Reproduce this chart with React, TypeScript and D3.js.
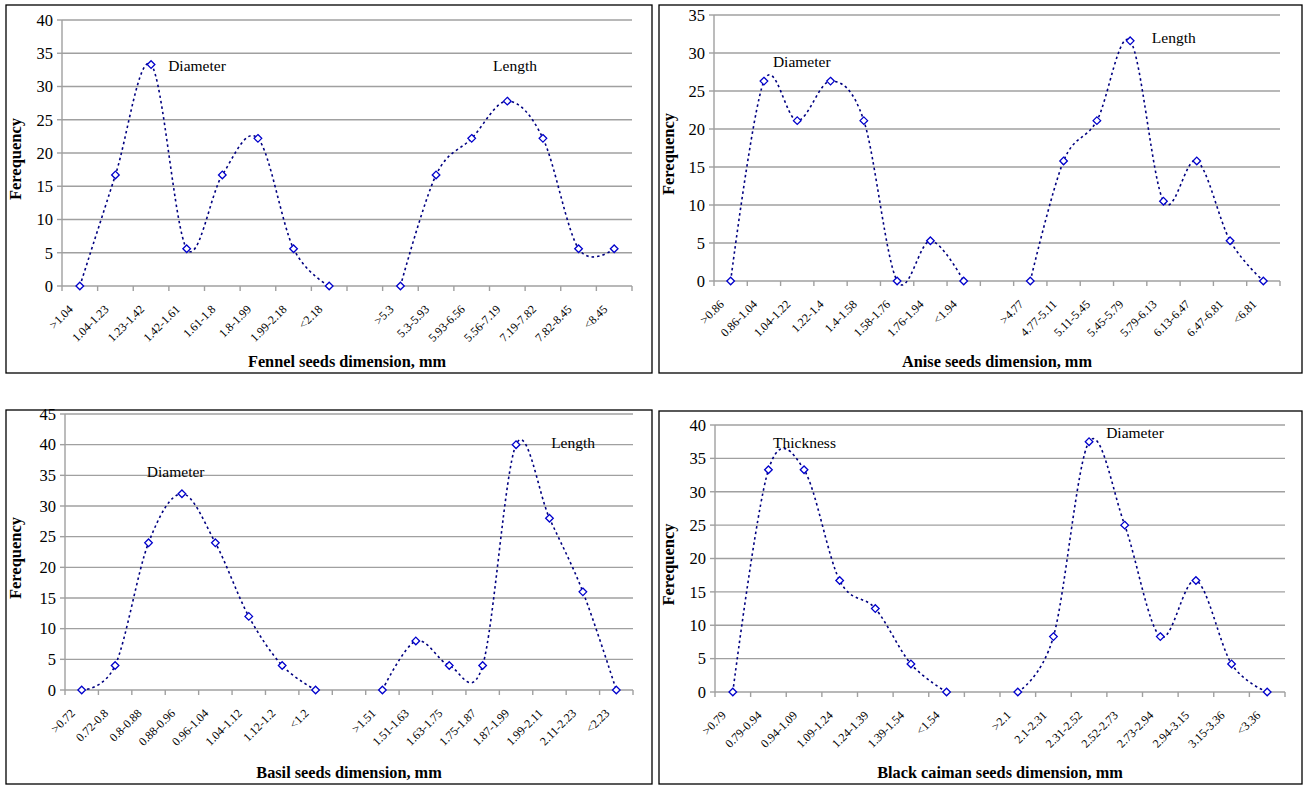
import React from "react";
import * as d3 from "d3";

// ---------- DATA ----------
const fennelDiaLabels = [">1.04", "1.04-1.23", "1.23-1.42", "1.42-1.61", "1.61-1.8", "1.8-1.99", "1.99-2.18", "<2.18"];
const fennelDiaValues = [0, 16.7, 33.3, 5.6, 16.7, 22.2, 5.6, 0];
const fennelLenLabels = [">5.3", "5.3-5.93", "5.93-6.56", "5.56-7.19", "7.19-7.82", "7.82-8.45", "<8.45"];
const fennelLenValues = [0, 16.7, 22.2, 27.8, 22.2, 5.6, 5.6];

const aniseDiaLabels = [">0.86", "0.86-1.04", "1.04-1.22", "1.22-1.4", "1.4-1.58", "1.58-1.76", "1.76-1.94", "<1.94"];
const aniseDiaValues = [0, 26.3, 21.1, 26.3, 21.1, 0, 5.3, 0];
const aniseLenLabels = [">4.77", "4.77-5.11", "5.11-5.45", "5.45-5.79", "5.79-6.13", "6.13-6.47", "6.47-6.81", "<6.81"];
const aniseLenValues = [0, 15.8, 21.1, 31.6, 10.5, 15.8, 5.3, 0];

const basilDiaLabels = [">0.72", "0.72-0.8", "0.8-0.88", "0.88-0.96", "0.96-1.04", "1.04-1.12", "1.12-1.2", "<1.2"];
const basilDiaValues = [0, 4, 24, 32, 24, 12, 4, 0];
const basilLenLabels = [">1.51", "1.51-1.63", "1.63-1.75", "1.75-1.87", "1.87-1.99", "1.99-2.11", "2.11-2.23", "<2.23"];
const basilLenValues = [0, 8, 4, 4, 40, 28, 16, 0];

const caimanThkLabels = [">0.79", "0.79-0.94", "0.94-1.09", "1.09-1.24", "1.24-1.39", "1.39-1.54", "<1.54"];
const caimanThkValues = [0, 33.3, 33.3, 16.7, 12.5, 4.2, 0];
const caimanDiaLabels = [">2.1", "2.1-2.31", "2.31-2.52", "2.52-2.73", "2.73-2.94", "2.94-3.15", "3.15-3.36", "<3.36"];
const caimanDiaValues = [0, 8.3, 37.5, 25, 8.3, 16.7, 4.2, 0];

const yMaxes = [40, 35, 45, 40];
const titles = [
  "Fennel seeds dimension, mm",
  "Anise seeds dimension, mm",
  "Basil seeds dimension, mm",
  "Black caiman seeds dimension, mm",
];
const seriesNames = [
  ["Diameter", "Length"],
  ["Diameter", "Length"],
  ["Diameter", "Length"],
  ["Thickness", "Diameter"],
];
// annotation anchor (category position, value) for each series name
const annotPos = [
  [[2.48, 32.4], [11.6, 32.4]],
  [[1.27, 28.2], [12.65, 31.3]],
  [[1.95, 34.7], [14.05, 39.5]],
  [[1.13, 36.6], [10.48, 38]],
];

const dataSets = [
  [fennelDiaLabels, fennelDiaValues, fennelLenLabels, fennelLenValues],
  [aniseDiaLabels, aniseDiaValues, aniseLenLabels, aniseLenValues],
  [basilDiaLabels, basilDiaValues, basilLenLabels, basilLenValues],
  [caimanThkLabels, caimanThkValues, caimanDiaLabels, caimanDiaValues],
] as const;

// ---------- LAYOUT ----------
const boxes = [
  { x: 6, y: 5, w: 646, h: 368 },
  { x: 659, y: 5, w: 643, h: 368 },
  { x: 6, y: 410, w: 646, h: 374 },
  { x: 659, y: 411, w: 643, h: 373 },
];
const plots = [
  { l: 62, r: 632, t: 20, b: 286 },
  { l: 714, r: 1280, t: 15, b: 281 },
  { l: 65, r: 633, t: 414, b: 690 },
  { l: 715, r: 1285, t: 425, b: 692 },
];

const FONT = "'Liberation Serif', 'Times New Roman', serif";
const GRID = "#a0a0a0";
const LINE = "#000080";
const MARK = "#0000cc";

function Panel({ idx }: { idx: number }) {
  const [aLab, aVal, bLab, bVal] = dataSets[idx];
  const cats = [...aLab, "", ...bLab];
  const p = plots[idx];
  const box = boxes[idx];
  const x = d3.scaleBand<number>().domain(d3.range(cats.length)).range([p.l, p.r]).paddingInner(0).paddingOuter(0);
  const cx = (i: number) => (x(Math.floor(i)) as number) + x.bandwidth() * (0.5 + (i - Math.floor(i)));
  const y = d3.scaleLinear().domain([0, yMaxes[idx]]).range([p.b, p.t]);
  const ticks = d3.range(0, yMaxes[idx] + 0.001, 5);
  const line = d3
    .line<[number, number]>()
    .x((d) => cx(d[0]))
    .y((d) => y(d[1]))
    .curve(d3.curveCardinal.tension(0));
  const sA: [number, number][] = (aVal as readonly number[]).map((v, i) => [i, v]);
  const off = aLab.length + 1;
  const sB: [number, number][] = (bVal as readonly number[]).map((v, i) => [i + off, v]);
  const annX = (c: number) => p.l + x.bandwidth() * (c + 0.5);
  const diamond = (px: number, py: number, key: string) => (
    <path
      key={key}
      d={`M${px},${py - 3.8}L${px + 3.8},${py}L${px},${py + 3.8}L${px - 3.8},${py}Z`}
      fill="#fff"
      stroke={MARK}
      strokeWidth={1.3}
    />
  );
  return (
    <g fontFamily={FONT}>
      <rect x={box.x} y={box.y} width={box.w} height={box.h} fill="#fff" stroke="#000" strokeWidth={1.3} />
      {ticks.map((t) => (
        <g key={t}>
          <line x1={p.l} x2={p.r} y1={y(t)} y2={y(t)} stroke={GRID} strokeWidth={1.4} />
          <line x1={p.l - 5} x2={p.l} y1={y(t)} y2={y(t)} stroke={GRID} strokeWidth={1.4} />
          <text x={p.l - 9} y={y(t)} dy="0.35em" textAnchor="end" fontSize={16.5} fill="#000">
            {t}
          </text>
        </g>
      ))}
      <line x1={p.l} x2={p.l} y1={p.t} y2={p.b} stroke={GRID} strokeWidth={1.4} />
      {d3.range(cats.length + 1).map((i) => (
        <line key={i} x1={p.l + i * x.bandwidth()} x2={p.l + i * x.bandwidth()} y1={p.b} y2={p.b + 5} stroke={GRID} strokeWidth={1.4} />
      ))}
      {cats.map((c, i) =>
        c ? (
          <text
            key={i}
            transform={`translate(${cx(i) - 6},${p.b + 24}) rotate(-45)`}
            textAnchor="end"
            fontSize={12}
            fill="#000"
          >
            {c}
          </text>
        ) : null
      )}
      <path d={line(sA) || ""} fill="none" stroke={LINE} strokeWidth={1.6} strokeDasharray="2.5,3" />
      <path d={line(sB) || ""} fill="none" stroke={LINE} strokeWidth={1.6} strokeDasharray="2.5,3" />
      {sA.map((d, i) => diamond(cx(d[0]), y(d[1]), "a" + i))}
      {sB.map((d, i) => diamond(cx(d[0]), y(d[1]), "b" + i))}
      {seriesNames[idx].map((n, k) => (
        <text key={n + k} x={annX(annotPos[idx][k][0])} y={y(annotPos[idx][k][1])} fontSize={15.5} fill="#000">
          {n}
        </text>
      ))}
      <text
        x={(p.l + p.r) / 2}
        y={box.y + box.h - 6}
        textAnchor="middle"
        fontSize={16.3}
        fontWeight="bold"
        fill="#000"
      >
        {titles[idx]}
      </text>
      <text
        transform={`translate(${box.x + 15},${(p.t + p.b) / 2 + 6}) rotate(-90)`}
        textAnchor="middle"
        fontSize={16.5}
        fontWeight="bold"
        fill="#000"
      >
        Ferequency
      </text>
    </g>
  );
}

export default function App() {
  return (
    <svg
      width={1303}
      height={785}
      style={{ position: "absolute", left: 0, top: 0, background: "#fff" }}
    >
      <rect x={0} y={0} width={1303} height={785} fill="#fff" />
      {[0, 1, 2, 3].map((i) => (
        <Panel key={i} idx={i} />
      ))}
    </svg>
  );
}
